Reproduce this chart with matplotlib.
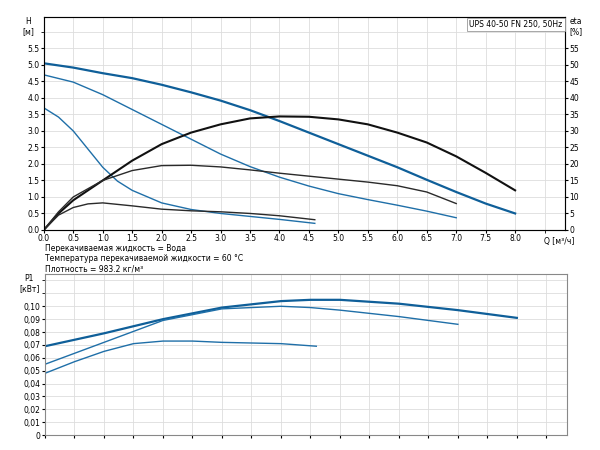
import numpy as np
import matplotlib.pyplot as plt

# head curves H [m]
q_h_max = [0, 0.5, 1, 1.5, 2, 2.5, 3, 3.5, 4, 4.5, 5, 5.5, 6, 6.5, 7, 7.5, 8]
h_max = [5.05, 4.92, 4.75, 4.6, 4.4, 4.17, 3.92, 3.63, 3.3, 2.95, 2.6, 2.25, 1.9, 1.52, 1.15, 0.8, 0.5]
q_h_mid = [0, 0.5, 1, 1.5, 2, 2.5, 3, 3.5, 4, 4.5, 5, 5.5, 6, 6.5, 7]
h_mid = [4.7, 4.48, 4.1, 3.65, 3.2, 2.75, 2.3, 1.92, 1.6, 1.33, 1.1, 0.92, 0.75, 0.57, 0.37]
q_h_low = [0, 0.25, 0.5, 0.75, 1, 1.25, 1.5, 2, 2.5, 3, 3.5, 4, 4.6]
h_low = [3.7, 3.42, 3.0, 2.45, 1.9, 1.48, 1.2, 0.82, 0.62, 0.5, 0.41, 0.32, 0.2]

# efficiency curves eta [%]
q_e_max = [0, 0.25, 0.5, 1, 1.5, 2, 2.5, 3, 3.5, 4, 4.5, 5, 5.5, 6, 6.5, 7, 7.5, 8]
e_max = [0, 5, 9, 15, 21, 26, 29.5, 32, 33.8, 34.4, 34.3, 33.5, 32, 29.5, 26.5, 22.3, 17.3, 12]
q_e_mid = [0, 0.25, 0.5, 1, 1.5, 2, 2.5, 3, 3.5, 4, 4.5, 5, 5.5, 6, 6.5, 7]
e_mid = [0, 5.5, 10, 15, 18, 19.5, 19.6, 19.1, 18.2, 17.2, 16.3, 15.4, 14.5, 13.4, 11.5, 8]
q_e_low = [0, 0.25, 0.5, 0.75, 1, 1.5, 2, 2.5, 3, 3.5, 4, 4.6]
e_low = [0, 4.5, 6.8, 7.9, 8.2, 7.3, 6.3, 5.8, 5.5, 5.0, 4.3, 3.1]

# power curves P1 [kW]
q_p_max = [0, 1, 2, 3, 4, 4.5, 5, 6, 7, 8]
p_max = [0.069, 0.079, 0.090, 0.099, 0.104, 0.105, 0.105, 0.102, 0.097, 0.091]
q_p_mid = [0, 1, 2, 3, 4, 4.5, 5, 6, 7]
p_mid = [0.055, 0.072, 0.089, 0.098, 0.100, 0.099, 0.097, 0.092, 0.086]
q_p_low = [0, 0.5, 1, 1.5, 2, 2.5, 3, 4, 4.6]
p_low = [0.048, 0.057, 0.065, 0.071, 0.073, 0.073, 0.072, 0.071, 0.069]

blue = '#1f6fa8'
dark = '#2a2a2a'
fs = 5.5

fig = plt.figure(figsize=(6, 4.5), dpi=100)
ax = fig.add_axes([0.073, 0.489, 0.869, 0.473])
ax.plot(q_h_max, h_max, color='#0f5f99', lw=1.6)
ax.plot(q_h_mid, h_mid, color=blue, lw=1.0)
ax.plot(q_h_low, h_low, color=blue, lw=1.0)
ax.set_xlim(0, 8.85)
ax.set_ylim(0, 6.45)
ax.set_xticks(np.arange(0, 8.01, 0.5))
ax.set_xticklabels([f'{v:.1f}' for v in np.arange(0, 8.01, 0.5)])
ax.set_xticks(np.arange(0, 8.6, 0.5), minor=True)
ax.set_yticks(np.arange(0, 5.51, 0.5))
ax.set_yticks([6.0], minor=True)
ax.grid(True, which='both', color='#dddddd', lw=0.6)
ax.tick_params(labelsize=fs, length=2, pad=1)
ax.text(-0.03, 1.0, 'H\n[м]', transform=ax.transAxes, fontsize=fs, ha='center', va='top')
ax.text(8.75, -0.2, 'Q [м³/ч]', fontsize=fs, ha='center', va='top')

ax2 = ax.twinx()
ax2.plot(q_e_max, e_max, color='#111111', lw=1.5)
ax2.plot(q_e_mid, e_mid, color=dark, lw=1.0)
ax2.plot(q_e_low, e_low, color=dark, lw=1.0)
ax2.set_ylim(0, 64.5)
ax2.set_yticks(np.arange(0, 56, 5))
ax2.tick_params(labelsize=fs, length=2, pad=1)
ax2.text(1.02, 1.0, 'eta\n[%]', transform=ax.transAxes, fontsize=fs, ha='center', va='top')
ax2.text(0.995, 0.985, 'UPS 40-50 FN 250, 50Hz', transform=ax.transAxes, fontsize=fs,
         ha='right', va='top', bbox=dict(fc='white', ec='#999999', lw=0.6, pad=1.5))
for s in ax.spines.values():
    s.set_color('#888888')

fig.text(0.075, 0.458, 'Перекачиваемая жидкость = Вода', fontsize=fs, va='top')
fig.text(0.075, 0.435, 'Температура перекачиваемой жидкости = 60 °C', fontsize=fs, va='top')
fig.text(0.075, 0.412, 'Плотность = 983.2 кг/м³', fontsize=fs, va='top')

bx = fig.add_axes([0.075, 0.033, 0.87, 0.358])
bx.plot(q_p_max, p_max, color='#0f5f99', lw=1.6)
bx.plot(q_p_mid, p_mid, color=blue, lw=1.0)
bx.plot(q_p_low, p_low, color=blue, lw=1.0)
bx.set_xlim(0, 8.85)
bx.set_ylim(0, 0.125)
bx.set_xticks(np.arange(0, 8.6, 0.5))
bx.set_xticklabels([])
bx.tick_params(axis='x', length=0)
bx.set_yticks(np.arange(0, 0.101, 0.01))
bx.set_yticklabels(['0'] + [f'{v:.2f}'.replace('.', ',') for v in np.arange(0.01, 0.101, 0.01)])
bx.set_yticks([0.11, 0.12], minor=True)
bx.grid(True, which='both', color='#dddddd', lw=0.6)
bx.tick_params(labelsize=fs, length=2, pad=1)
bx.text(-0.03, 1.0, 'P1\n[кВт]', transform=bx.transAxes, fontsize=fs, ha='center', va='top')
for s in bx.spines.values():
    s.set_color('#888888')

fig.savefig('out.png', dpi=100)
